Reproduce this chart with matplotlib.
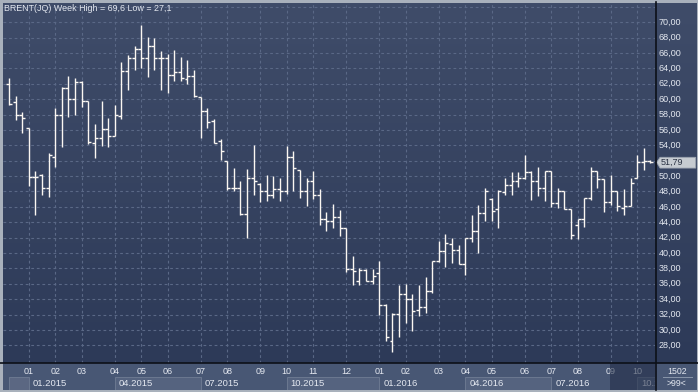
import numpy as np
import matplotlib.pyplot as plt
from matplotlib.colors import LinearSegmentedColormap
from matplotlib.patches import Rectangle, Polygon

plt.rcParams['font.family'] = ['Liberation Sans', 'DejaVu Sans']

# weekly OHLC bars (Brent), Dec 2014 - Oct 2016
opens = [62.0, 59.6, 57.9, 56.2, 49.9, 50.1, 48.4, 52.5, 58.0, 61.4,
         60.0, 62.2, 59.7, 54.3, 55.0, 56.1, 55.2, 57.8, 63.6, 65.4,
         66.5, 65.3, 66.9, 65.4, 65.4, 63.1, 63.5, 62.6, 63.0, 60.3,
         58.5, 57.1, 54.5, 51.9, 48.4, 48.5, 45.1, 49.8, 49.0, 48.1,
         47.5, 48.3, 48.0, 52.5, 50.8, 48.0, 49.4, 47.5, 44.4, 44.2,
         44.7, 43.2, 37.9, 36.4, 37.8, 36.3, 37.4, 33.3, 28.5, 32.1,
         34.7, 34.0, 32.6, 33.0, 35.0, 39.0, 40.3, 41.2, 40.4, 38.6,
         41.9, 42.8, 45.2, 47.0, 45.7, 47.9, 48.8, 49.4, 49.8, 50.5,
         49.3, 48.5, 50.6, 46.5, 48.0, 45.7, 43.7, 44.4, 47.1, 50.7,
         49.6, 46.6, 48.0, 45.9, 46.1, 49.8, 51.8, 52.0]
highs = [62.8, 60.4, 58.3, 56.2, 50.6, 50.3, 53.0, 58.9, 61.6, 63.0,
         62.7, 62.3, 59.7, 56.8, 59.7, 57.6, 59.2, 64.8, 65.8, 66.9,
         69.6, 68.1, 67.9, 66.2, 65.9, 66.4, 65.5, 65.1, 63.8, 60.3,
         58.8, 57.4, 54.8, 51.9, 51.0, 49.4, 50.9, 54.1, 49.1, 50.2,
         50.0, 49.7, 53.9, 53.2, 50.8, 49.8, 50.7, 48.3, 45.3, 46.4,
         45.6, 43.2, 39.6, 38.1, 37.9, 37.9, 38.9, 33.4, 32.2, 35.9,
         36.0, 34.7, 35.8, 36.9, 38.9, 41.5, 42.5, 42.0, 41.0, 41.9,
         44.9, 46.2, 48.5, 47.2, 48.2, 49.8, 50.5, 50.5, 52.8, 50.7,
         51.2, 50.7, 50.7, 48.5, 48.0, 45.7, 44.4, 47.2, 51.2, 50.7,
         49.6, 50.1, 48.0, 48.3, 49.8, 52.8, 53.7, 52.1]
lows = [59.2, 57.3, 55.6, 48.7, 44.9, 47.5, 47.3, 51.2, 53.8, 57.7,
        58.0, 59.0, 54.2, 52.4, 53.9, 53.8, 55.2, 57.4, 61.2, 63.8,
        64.1, 62.9, 63.8, 61.2, 60.8, 62.3, 62.3, 62.0, 60.3, 55.0,
        56.3, 54.3, 52.1, 48.2, 48.1, 44.9, 42.0, 47.6, 46.6, 46.8,
        47.2, 46.8, 47.7, 48.0, 47.1, 46.1, 47.0, 43.6, 42.9, 43.3,
        42.2, 37.5, 35.9, 35.9, 36.3, 36.0, 32.0, 28.6, 27.1, 29.1,
        30.9, 29.8, 31.8, 32.2, 34.8, 38.8, 38.2, 38.7, 38.6, 37.2,
        41.4, 40.0, 44.2, 44.1, 43.3, 47.5, 47.6, 48.6, 49.6, 46.9,
        47.4, 46.7, 46.0, 45.9, 45.7, 41.8, 41.8, 43.4, 46.9, 48.4,
        45.3, 46.2, 45.4, 45.0, 46.1, 49.7, 50.8, 51.7]
closes = [59.4, 57.9, 57.5, 49.9, 49.9, 48.4, 52.8, 58.0, 61.4, 60.0,
          62.2, 59.7, 54.4, 55.0, 56.1, 55.2, 58.0, 63.6, 65.4, 66.5,
          65.3, 66.9, 65.4, 65.4, 63.1, 63.5, 62.7, 63.0, 60.4, 58.5,
          57.0, 54.3, 53.2, 48.4, 48.5, 45.1, 49.8, 49.3, 48.1, 47.5,
          48.3, 48.1, 52.5, 51.1, 48.0, 49.4, 47.5, 44.4, 44.2, 44.7,
          43.2, 37.9, 37.7, 37.8, 36.3, 37.0, 33.3, 29.1, 32.1, 34.7,
          34.0, 32.5, 33.0, 35.0, 38.9, 40.3, 41.3, 40.4, 38.6, 41.9,
          42.8, 45.2, 48.1, 45.4, 48.0, 48.8, 49.4, 49.8, 50.5, 49.3,
          48.4, 50.6, 46.5, 48.0, 45.7, 42.4, 44.4, 47.1, 50.7, 49.6,
          46.6, 48.0, 46.1, 46.1, 49.1, 51.8, 52.0, 51.79]

# first weekly bar of each month
month_idx = [3, 7, 11, 16, 20, 24, 29, 33, 38, 42, 46, 51,
             56, 60, 65, 69, 73, 78, 82, 86, 91, 95]
month_lbl = ['01', '02', '03', '04', '05', '06', '07', '08', '09', '10', '11', '12',
             '01', '02', '03', '04', '05', '06', '07', '08', '09', '10']
quarter_idx = [0, 3, 16, 29, 42, 56, 69, 82, 95]
quarter_lbl = ['', '01.2015', '04.2015', '07.2015', '10.2015',
               '01.2016', '04.2016', '07.2016', '10.2016']
price_ticks = list(range(28, 72, 2))

W, H = 698, 392
x_min, x_max = -0.9, 97.7
y_min, y_max = 25.7, 72.5

bg_cmap = LinearSegmentedColormap.from_list('bg', ['#3f4c69', '#2d3a58'])
grid_c = '#5a6886'
txt_c = '#e4e8f0'
band_c = '#485774'

fig = plt.figure(figsize=(W / 100, H / 100), dpi=100, facecolor='#a9b1bc')

# main chart
ax = fig.add_axes([3 / W, 29 / H, 652 / W, 360 / H])
grad = np.linspace(0, 1, 256).reshape(-1, 1)
ax.imshow(grad, extent=[x_min, x_max, y_min, y_max], aspect='auto', cmap=bg_cmap,
          origin='upper', zorder=0)
ax.set_xlim(x_min, x_max)
ax.set_ylim(y_min, y_max)
for p in price_ticks + [72]:
    ax.axhline(p, color=grid_c, lw=0.8, ls=(0, (2.5, 2.5)), zorder=1)
for m in month_idx:
    ax.axvline(m, color=grid_c, lw=0.8, ls=(0, (2.5, 2.5)), zorder=1)

x = np.arange(len(closes))
bar_c = '#fbf7f2'
ax.vlines(x, lows, highs, color=bar_c, lw=1.0, zorder=3)
ax.hlines(opens, x - 0.45, x, color=bar_c, lw=1.0, zorder=3)
ax.hlines(closes, x, x + 0.45, color=bar_c, lw=1.0, zorder=3)
ax.set_xticks([])
ax.set_yticks([])
for s in ax.spines.values():
    s.set_visible(False)

fig.text(4 / W, 1 - 4 / H, 'BRENT(JQ) Week High = %s Low = %s' % (
    ('%.1f' % max(highs)).replace('.', ','), ('%.1f' % min(lows)).replace('.', ',')),
    color=txt_c, fontsize=6.4, va='top', ha='left')

# right price scale
axr = fig.add_axes([655 / W, 29 / H, 42 / W, 360 / H], sharey=ax)
axr.imshow(grad, extent=[0, 1, y_min, y_max], aspect='auto', cmap=bg_cmap,
           origin='upper', zorder=0)
axr.set_xlim(0, 1)
axr.set_xticks([])
axr.tick_params(left=False, labelleft=False)
for s in axr.spines.values():
    s.set_visible(False)
tr = axr.get_yaxis_transform()
last = closes[-1]
for p in price_ticks:
    if abs(p - last) < 1.0:
        continue  # hidden behind the last price marker
    axr.text(0.08, p, ('%.2f' % p).replace('.', ','), transform=tr,
             color=txt_c, fontsize=6.5, va='center', ha='left')
axr.add_patch(Polygon([(0.04, last), (0.12, last + 0.65), (0.97, last + 0.65),
                       (0.97, last - 0.75), (0.12, last - 0.75)],
                      closed=True, transform=tr, facecolor='#c6cbd1',
                      edgecolor='#9aa2ae', lw=0.6, zorder=4))
axr.text(0.14, last - 0.05, ('%.2f' % last).replace('.', ','), transform=tr,
         color='#2b3344', fontsize=6.5, va='center', ha='left', zorder=5)

# bottom time band
axb = fig.add_axes([3 / W, 2 / H, 652 / W, 27 / H], sharex=ax)
axb.set_facecolor(band_c)
axb.set_ylim(27, 0)
axb.set_yticks([])
axb.tick_params(bottom=False, labelbottom=False)
for s in axb.spines.values():
    s.set_visible(False)
bounds = quarter_idx + [x_max]
for i, q in enumerate(quarter_idx):
    if i % 2 == 0:
        fc = '#5b6782' if i == 0 else '#55637f'
        axb.add_patch(Rectangle((q, 14.3), bounds[i + 1] - q, 12.7,
                                facecolor=fc, edgecolor='#6b7890', lw=0.7, zorder=1))
    if quarter_lbl[i]:
        axb.text(q + 0.6, 20.2, quarter_lbl[i], color=txt_c, fontsize=6.8,
                 va='center', ha='left', zorder=3, clip_on=True)
for m, lbl in zip(month_idx, month_lbl):
    axb.text(m, 9, lbl, color=txt_c, fontsize=6.5, va='center', ha='center', zorder=3)
axb.add_patch(Rectangle((month_idx[-2] - 0.1, 0), x_max - month_idx[-2] + 0.1, 27,
                        facecolor='#202b45', alpha=0.55, lw=0, zorder=4))

# corner box
axc = fig.add_axes([655 / W, 2 / H, 42 / W, 27 / H])
axc.set_facecolor(band_c)
axc.set_xlim(0, 1)
axc.set_ylim(27, 0)
axc.set_xticks([])
axc.set_yticks([])
for s in axc.spines.values():
    s.set_visible(False)
axc.text(0.52, 8.0, '1502', color=txt_c, fontsize=6.3, ha='center', va='center')
axc.text(0.52, 20.5, '>99<', color=txt_c, fontsize=6.3, ha='center', va='center')
axc.plot([0.18, 0.88], [14.3, 14.3], color='#8a96aa', lw=0.7)

# black separators
fig.add_artist(plt.Line2D([0, 1], [29 / H, 29 / H], color='#0c1018', lw=1.2))
fig.add_artist(plt.Line2D([655.5 / W, 655.5 / W], [2 / H, 1 - 2 / H], color='#0c1018', lw=1.2))

fig.savefig('out.png', dpi=100, facecolor=fig.get_facecolor())
